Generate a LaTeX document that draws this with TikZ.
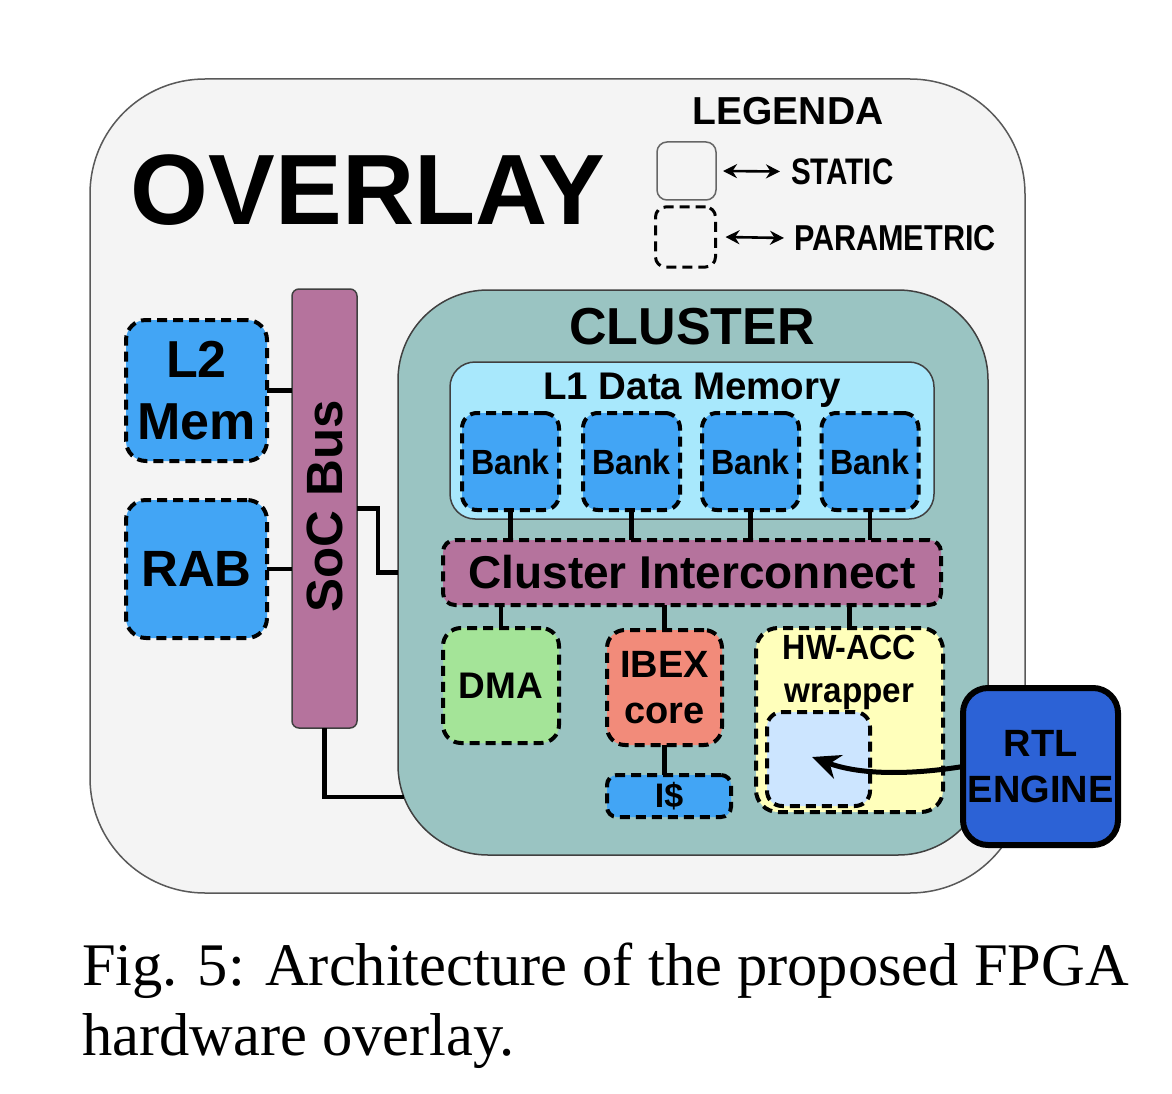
\documentclass[tikz,border=0pt]{standalone}
\usepackage{fontspec}
\setmainfont{Liberation Sans}
\newfontfamily\capfont{Liberation Serif}
\usetikzlibrary{arrows.meta}
\definecolor{ovfill}{RGB}{244,244,244}
\definecolor{mauve}{RGB}{181,115,157}
\definecolor{clfill}{RGB}{154,196,194}
\definecolor{lonefill}{RGB}{168,232,252}
\definecolor{bluebox}{RGB}{66,165,245}
\definecolor{dmafill}{RGB}{164,228,152}
\definecolor{ibexfill}{RGB}{242,139,122}
\definecolor{hwfill}{RGB}{255,255,187}
\definecolor{innerfill}{RGB}{204,229,255}
\definecolor{rtlfill}{RGB}{44,98,214}
\newcommand{\fs}[1]{\fontsize{#1}{#1}\selectfont\bfseries}
\tikzset{
  box/.style={rectangle, inner sep=0pt, outer sep=0pt, align=center},
  parambox/.style={box, draw=black, line width=4pt, dash pattern=on 10pt off 6pt},
  thinbox/.style={box, draw=black!70, line width=1.5pt},
  wire/.style={draw=black, line width=4.5pt},
  txt/.style={inner sep=0pt, outer sep=0pt, align=center},
  legarrow/.style={line width=2.6pt, {Stealth[length=14pt,width=14pt]}-{Stealth[length=14pt,width=14pt]}},
}
\begin{document}
\begin{tikzpicture}[x=1pt,y=-1pt]
\useasboundingbox[fill=white] (0,0) rectangle (1172,1094);
% overlay
\node[thinbox, draw=black!65, fill=ovfill, rounded corners=115pt, minimum width=935pt, minimum height=814pt] (overlay) at (557.5,486) {};
\node[txt, anchor=base] (ovlbl) at (368,225) {\fs{100}OVERLAY};
% legend
\node[txt, anchor=base] (leglbl) at (788,125) {\fs{39}LEGENDA};
\node[thinbox, draw=black!60, fill=ovfill, rounded corners=10pt, minimum width=59pt, minimum height=58pt] (staticbox) at (686.5,171) {};
\node[parambox, line width=3pt, rounded corners=10pt, minimum width=60pt, minimum height=60pt] (pbox) at (685.5,237) {};
\node[txt, anchor=west] (stxt) at (791,171.5) {\fs{37}\scalebox{0.8}[1]{STATIC}};
\node[txt, anchor=west] (ptxt) at (794,238) {\fs{36}\scalebox{0.85}[1]{PARAMETRIC}};
\draw[legarrow] ([xshift=7pt]staticbox.east) -- ([xshift=-11pt]stxt.west);
\draw[legarrow] ([xshift=10pt]pbox.east) -- ([xshift=-10pt]ptxt.west);
% SoC bus and memories
\node[thinbox, draw=black!75, fill=mauve, rounded corners=7pt, minimum width=65pt, minimum height=439pt] (bus) at (324.5,508.5) {};
\node[txt, rotate=90] (buslbl) at (325,506) {\fs{51}SoC Bus};
\node[parambox, fill=bluebox, rounded corners=20pt, minimum width=141pt, minimum height=141pt, font={\fontsize{52}{62}\selectfont\bfseries}] (l2) at (196.5,390.5) {L2\\Mem};
\node[parambox, fill=bluebox, rounded corners=20pt, minimum width=141pt, minimum height=138pt] (rab) at (196.5,569) {\fs{51}RAB};
% cluster
\node[thinbox, draw=black!75, fill=clfill, rounded corners=90pt, minimum width=590pt, minimum height=565pt] (cluster) at (693,572.5) {};
\node[txt, anchor=base] (cllbl) at (692,344) {\fs{52}CLUSTER};
\node[thinbox, draw=black!75, fill=lonefill, rounded corners=25pt, minimum width=484pt, minimum height=157pt] (l1) at (692,440.5) {};
\node[txt, anchor=base] (l1lbl) at (692,399) {\fs{38.5}L1 Data Memory};
\foreach \i/\x in {1/510.5, 2/631.5, 3/750.5, 4/870}{
  \node[parambox, fill=bluebox, rounded corners=15pt, minimum width=97pt, minimum height=97pt] (bank\i) at (\x,461.5) {\fs{35}\scalebox{0.92}[1]{Bank}};
}
\node[parambox, fill=mauve, rounded corners=12pt, minimum width=498pt, minimum height=65pt] (ic) at (692,572.5) {\fs{46}Cluster Interconnect};
\node[parambox, fill=dmafill, rounded corners=18pt, minimum width=116pt, minimum height=115pt] (dma) at (501,685.5) {\fs{37}DMA};
\node[parambox, fill=ibexfill, rounded corners=18pt, minimum width=115pt, minimum height=115pt, font={\fontsize{38}{46}\selectfont\bfseries}] (ibex) at (664.5,687.5) {IBEX\\core};
\node[parambox, fill=bluebox, rounded corners=10pt, minimum width=124pt, minimum height=42pt] (icache) at (669,796) {\fs{34}I\$};
\node[parambox, fill=hwfill, rounded corners=22pt, minimum width=187pt, minimum height=184pt] (hw) at (849.5,720) {};
\node[txt, anchor=north, font={\fontsize{35}{43}\selectfont\bfseries}] (hwlbl) at (849.5,635) {\scalebox{0.92}[1]{HW-ACC}\\\scalebox{0.95}[1]{wrapper}};
\node[parambox, fill=innerfill, rounded corners=15pt, minimum width=103pt, minimum height=94pt] (inner) at (818.5,759) {};
\node[box, draw=black, line width=6pt, fill=rtlfill, rounded corners=25pt, minimum width=155pt, minimum height=157pt, font={\fontsize{38}{46}\selectfont\bfseries}] (rtl) at (1040.5,766.5) {RTL\\ENGINE};
% wires
\draw[wire] (l2.east) -- (l2.east -| bus.west);
\draw[wire] (rab.east) -- (rab.east -| bus.west);
\draw[wire] (bus.east) -- ++(21,0) |- (ic.west -| cluster.west);
\coordinate (clbl) at (404,797);
\draw[wire] (bus.south) |- (clbl);
\foreach \i in {1,...,4}{
  \draw[wire] (bank\i.south) -- (bank\i.south |- ic.north);
}
\draw[wire] (dma.north) -- (dma.north |- ic.south);
\draw[wire] (ibex.north) -- (ibex.north |- ic.south);
\draw[wire] (hw.north) -- (hw.north |- ic.south);
\draw[wire] (ibex.south) -- (ibex.south |- icache.north);
\draw[line width=5pt, -{Stealth[length=28pt,width=25pt]}] (rtl.west) .. controls (910,775) and (860,775) .. ([xshift=-6.5pt,yshift=2pt]inner.center);
% caption
\node[txt, anchor=base west] (cap1) at (82,985) {\capfont\fontsize{60.5}{60}\selectfont Fig. 5: Architecture of the proposed FPGA};
\node[txt, anchor=base west] (cap2) at (82,1055) {\capfont\fontsize{60.5}{60}\selectfont hardware overlay.};
\end{tikzpicture}
\end{document}
